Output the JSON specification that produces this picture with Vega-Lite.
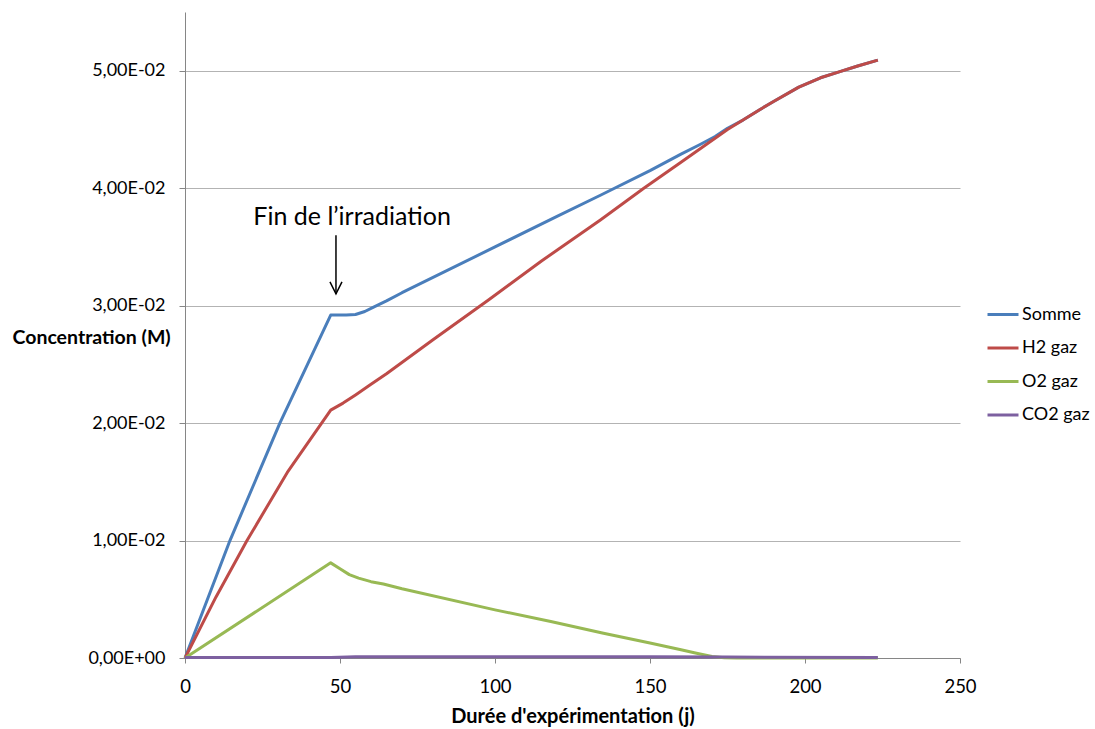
{
  "$schema": "https://vega.github.io/schema/vega-lite/v6.json",
  "width": 775,
  "height": 646,
  "autosize": "none",
  "padding": {"left": 185, "top": 12, "right": 135, "bottom": 71},
  "background": "white",
  "config": {
    "view": {"stroke": null},
    "font": "Lato",
    "axis": {"labelFont": "Lato", "titleFont": "Lato", "labelColor": "#000000", "titleColor": "#000000"}
  },
  "datasets": {
    "series": [
      {"serie": "Somme", "j": 0, "c": 0},
      {"serie": "Somme", "j": 14.5, "c": 0.0100},
      {"serie": "Somme", "j": 30.6, "c": 0.0200},
      {"serie": "Somme", "j": 47, "c": 0.0292},
      {"serie": "Somme", "j": 52, "c": 0.0292},
      {"serie": "Somme", "j": 55, "c": 0.02925},
      {"serie": "Somme", "j": 58, "c": 0.0295},
      {"serie": "Somme", "j": 61, "c": 0.0299},
      {"serie": "Somme", "j": 65, "c": 0.0304},
      {"serie": "Somme", "j": 70, "c": 0.0311},
      {"serie": "Somme", "j": 100, "c": 0.0350},
      {"serie": "Somme", "j": 120, "c": 0.0376},
      {"serie": "Somme", "j": 134, "c": 0.0394},
      {"serie": "Somme", "j": 150, "c": 0.0415},
      {"serie": "Somme", "j": 160, "c": 0.0429},
      {"serie": "Somme", "j": 166, "c": 0.0437},
      {"serie": "Somme", "j": 171, "c": 0.0444},
      {"serie": "Somme", "j": 175, "c": 0.0451},
      {"serie": "Somme", "j": 180, "c": 0.0458},
      {"serie": "Somme", "j": 185.5, "c": 0.0467},
      {"serie": "Somme", "j": 190, "c": 0.0474},
      {"serie": "Somme", "j": 198, "c": 0.0486},
      {"serie": "Somme", "j": 205, "c": 0.0494},
      {"serie": "Somme", "j": 211, "c": 0.0499},
      {"serie": "Somme", "j": 217, "c": 0.0504},
      {"serie": "Somme", "j": 223.5, "c": 0.0509},
      {"serie": "H2 gaz", "j": 0, "c": 0},
      {"serie": "H2 gaz", "j": 10, "c": 0.0052},
      {"serie": "H2 gaz", "j": 20, "c": 0.0100},
      {"serie": "H2 gaz", "j": 33, "c": 0.0158},
      {"serie": "H2 gaz", "j": 47, "c": 0.0211},
      {"serie": "H2 gaz", "j": 51, "c": 0.0217},
      {"serie": "H2 gaz", "j": 55, "c": 0.0224},
      {"serie": "H2 gaz", "j": 60, "c": 0.0233},
      {"serie": "H2 gaz", "j": 65, "c": 0.0242},
      {"serie": "H2 gaz", "j": 80, "c": 0.0271},
      {"serie": "H2 gaz", "j": 98, "c": 0.0305},
      {"serie": "H2 gaz", "j": 115, "c": 0.0338},
      {"serie": "H2 gaz", "j": 134, "c": 0.0373},
      {"serie": "H2 gaz", "j": 148, "c": 0.0400},
      {"serie": "H2 gaz", "j": 160, "c": 0.0422},
      {"serie": "H2 gaz", "j": 175, "c": 0.0450},
      {"serie": "H2 gaz", "j": 180, "c": 0.0458},
      {"serie": "H2 gaz", "j": 185.5, "c": 0.0467},
      {"serie": "H2 gaz", "j": 190, "c": 0.0474},
      {"serie": "H2 gaz", "j": 198, "c": 0.0486},
      {"serie": "H2 gaz", "j": 205, "c": 0.0494},
      {"serie": "H2 gaz", "j": 211, "c": 0.0499},
      {"serie": "H2 gaz", "j": 217, "c": 0.0504},
      {"serie": "H2 gaz", "j": 223.5, "c": 0.0509},
      {"serie": "O2 gaz", "j": 0, "c": 0},
      {"serie": "O2 gaz", "j": 47, "c": 0.0081},
      {"serie": "O2 gaz", "j": 50, "c": 0.0076},
      {"serie": "O2 gaz", "j": 53, "c": 0.0071},
      {"serie": "O2 gaz", "j": 56, "c": 0.0068},
      {"serie": "O2 gaz", "j": 60, "c": 0.0065},
      {"serie": "O2 gaz", "j": 64, "c": 0.0063},
      {"serie": "O2 gaz", "j": 70, "c": 0.0059},
      {"serie": "O2 gaz", "j": 100, "c": 0.0041},
      {"serie": "O2 gaz", "j": 118, "c": 0.0031},
      {"serie": "O2 gaz", "j": 135, "c": 0.0021},
      {"serie": "O2 gaz", "j": 150, "c": 0.00127},
      {"serie": "O2 gaz", "j": 160, "c": 0.0007},
      {"serie": "O2 gaz", "j": 165, "c": 0.0004},
      {"serie": "O2 gaz", "j": 170, "c": 0.00012},
      {"serie": "O2 gaz", "j": 174, "c": 0.00002},
      {"serie": "O2 gaz", "j": 178, "c": 0},
      {"serie": "O2 gaz", "j": 200, "c": 0},
      {"serie": "O2 gaz", "j": 223.5, "c": 0},
      {"serie": "CO2 gaz", "j": 0, "c": 0.00005},
      {"serie": "CO2 gaz", "j": 47, "c": 0.00005},
      {"serie": "CO2 gaz", "j": 55, "c": 0.0001},
      {"serie": "CO2 gaz", "j": 100, "c": 0.0001},
      {"serie": "CO2 gaz", "j": 150, "c": 0.0001},
      {"serie": "CO2 gaz", "j": 175, "c": 0.00008},
      {"serie": "CO2 gaz", "j": 223.5, "c": 0.00005}
    ],
    "annot": [
      {"j": 53.9, "c": 0.03755, "label": "Fin de l’irradiation"}
    ],
    "arrow": [
      {"j": 48.7, "c1": 0.0360, "c2": 0.0310}
    ]
  },
  "layer": [
    {
      "data": {"name": "series"},
      "mark": {"type": "line", "interpolate": "linear", "strokeWidth": 3, "strokeJoin": "round"},
      "encoding": {
        "x": {
          "field": "j", "type": "quantitative",
          "scale": {"domain": [0, 250], "nice": false, "zero": false},
          "axis": {
            "title": "Durée d'expérimentation (j)",
            "values": [0, 50, 100, 150, 200, 250],
            "grid": false,
            "labelFlush": false,
            "domainColor": "#868686",
            "tickColor": "#868686",
            "tickSize": 5,
            "labelFontSize": 18.5,
            "labelPadding": 14,
            "titleFontSize": 20,
            "titleFontWeight": "bold",
            "titlePadding": 11
          }
        },
        "y": {
          "field": "c", "type": "quantitative",
          "scale": {"domain": [0, 0.055], "nice": false},
          "axis": {
            "title": "Concentration (M)",
            "values": [0, 0.01, 0.02, 0.03, 0.04, 0.05],
            "labelExpr": "datum.value == 0 ? '0,00E+00' : replace(format(datum.value * 100, '.2f'), '.', ',') + 'E-02'",
            "grid": true,
            "gridColor": "#b3b3b3",
            "gridWidth": 1,
            "domainColor": "#868686",
            "tickColor": "#868686",
            "tickSize": 6,
            "labelFontSize": 18,
            "labelPadding": 14,
            "titleFontSize": 19.5,
            "titleFontWeight": "bold",
            "titleAngle": 0,
            "titleAlign": "left",
            "titleBaseline": "middle",
            "titleX": -173,
            "titleY": 325
          }
        },
        "color": {
          "field": "serie", "type": "nominal",
          "scale": {
            "domain": ["Somme", "H2 gaz", "O2 gaz", "CO2 gaz"],
            "range": ["#4a7ebb", "#be4b48", "#98b954", "#7d60a0"]
          },
          "legend": {
            "title": null,
            "orient": "none",
            "legendX": 801,
            "legendY": 285.5,
            "symbolType": "stroke",
            "symbolSize": 961,
            "symbolStrokeWidth": 3,
            "rowPadding": 7.5,
            "labelFontSize": 18,
            "labelFont": "Lato",
            "labelColor": "#000000",
            "labelOffset": 2
          }
        },
        "order": {"field": "j", "type": "quantitative"}
      }
    },
    {
      "data": {"name": "annot"},
      "mark": {"type": "text", "fontSize": 25, "font": "Lato", "align": "center", "baseline": "middle", "color": "#000000"},
      "encoding": {
        "x": {"field": "j", "type": "quantitative"},
        "y": {"field": "c", "type": "quantitative"},
        "text": {"field": "label"}
      }
    },
    {
      "data": {"name": "arrow"},
      "mark": {"type": "rule", "color": "#000000", "strokeWidth": 1.5},
      "encoding": {
        "x": {"field": "j", "type": "quantitative"},
        "y": {"field": "c1", "type": "quantitative"},
        "y2": {"field": "c2"}
      }
    },
    {
      "data": {"name": "arrow"},
      "mark": {"type": "point", "shape": "M-1,-2L0,0L1,-2", "filled": false, "stroke": "#000000", "strokeWidth": 1.5, "size": 144, "opacity": 1},
      "encoding": {
        "x": {"field": "j", "type": "quantitative"},
        "y": {"field": "c2", "type": "quantitative"}
      }
    }
  ]
}
